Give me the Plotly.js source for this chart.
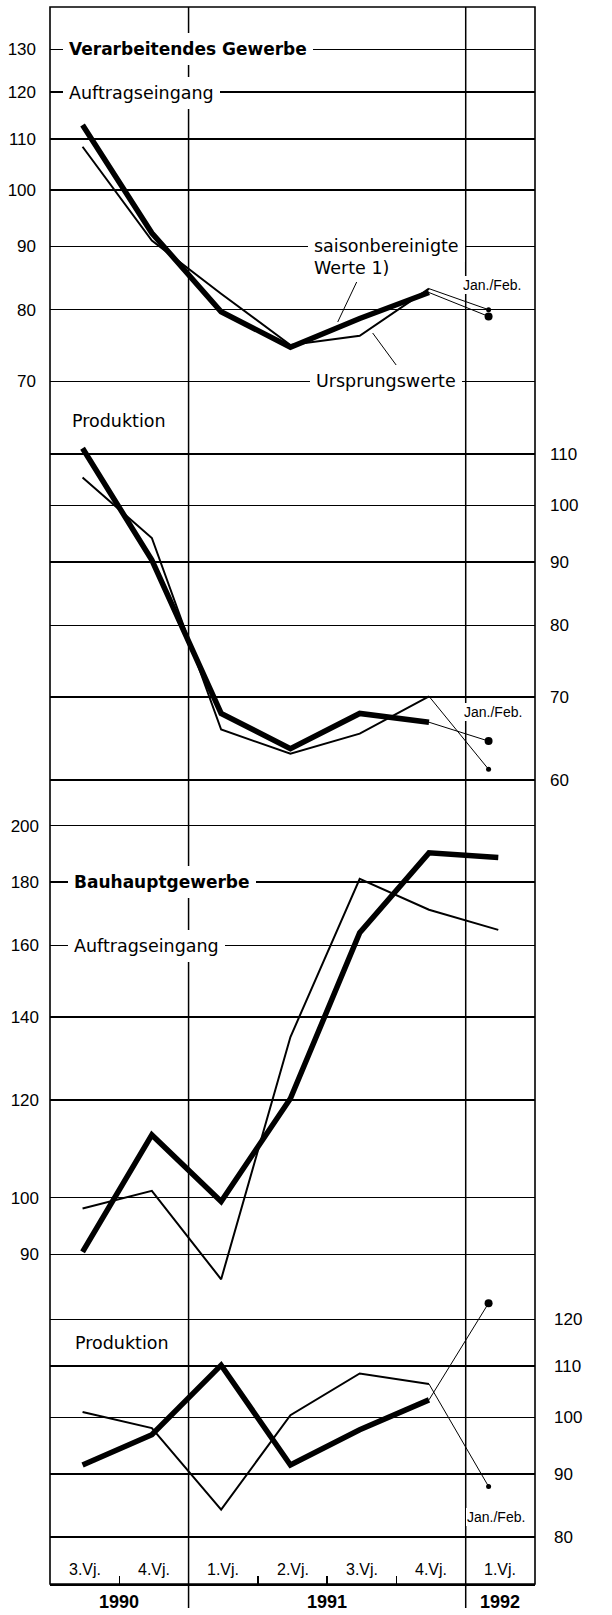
<!DOCTYPE html>
<html><head><meta charset="utf-8">
<script src="https://cdn.plot.ly/plotly-3.0.1.min.js"></script>
<style>html,body{margin:0;padding:0;background:#fff}</style>
</head><body><div id="chart" style="width:612px;height:1615px"></div>
<script>
// ---------------- data ----------------
const quarterLabels = ['3.Vj.', '4.Vj.', '1.Vj.', '2.Vj.', '3.Vj.', '4.Vj.', '1.Vj.'];
const yearLabels = ['1990', '1991', '1992'];
const quarterX = [0.47, 1.47, 2.47, 3.47, 4.47, 5.47, 6.47];   // mid-quarter positions
const janFebX = 6.33;

// Verarbeitendes Gewerbe – Auftragseingang
const vgAuftragSaison   = [112.9, 92.3, 79.7, 74.6, 78.7, 82.6];
const vgAuftragUrsprung = [108.4, 91.0, 82.4, 74.9, 76.2, 83.2];
const vgAuftragJanFeb   = [79.0, 80.0];   // [saisonbereinigt, Ursprung]
// Verarbeitendes Gewerbe – Produktion
const vgProdSaison   = [111.2, 90.3, 67.9, 63.6, 67.9, 66.8];
const vgProdUrsprung = [105.3, 94.1, 65.9, 63.0, 65.4, 70.1];
const vgProdJanFeb   = [64.5, 61.2];
// Bauhauptgewerbe – Auftragseingang (incl. 1.Vj. 1992)
const bauAuftragSaison   = [90.4, 112.4, 99.3, 120.3, 163.8, 190.1, 188.5];
const bauAuftragUrsprung = [98.0, 101.3, 85.9, 134.9, 181.1, 171.0, 164.7];
// Bauhauptgewerbe – Produktion
const bauProdSaison   = [91.5, 96.8, 110.2, 91.5, 97.7, 103.3];
const bauProdUrsprung = [101.0, 98.0, 84.2, 100.4, 108.5, 106.4];
const bauProdJanFeb   = [123.7, 87.9];

// axis tick values
const ticksVgAuftrag  = [70, 80, 90, 100, 110, 120, 130];
const ticksVgProd     = [60, 70, 80, 90, 100, 110];
const ticksBauAuftrag = [90, 100, 120, 140, 160, 180, 200];
const ticksBauProd    = [80, 90, 100, 110, 120];

// ---------------- geometry ----------------
const W = 612, H = 1615;
const L = 50, R = 535.5, T = 7, B = 1584;
const px = x => (x - L) / (R - L);
const py = y => (B - y) / (B - T);
function logRange(y100, s, yt, yb) { return [2 - (yb - y100) / s, 2 + (y100 - yt) / s]; }

const TXT = 'DejaVu Sans';
const NUM = 'Liberation Sans';

function thick(x, y, ax) { return {x, y, yaxis: ax, mode: 'lines', line: {color: '#000', width: 5.5}, hoverinfo: 'skip'}; }
function thin(x, y, ax) { return {x, y, yaxis: ax, mode: 'lines', line: {color: '#000', width: 2}, hoverinfo: 'skip'}; }
function conn(x, y, ax) { return {x, y, yaxis: ax, mode: 'lines', line: {color: '#000', width: 1}, hoverinfo: 'skip'}; }
function dot(x, y, ax, size) { return {x: [x], y: [y], yaxis: ax, mode: 'markers', marker: {color: '#000', size}, hoverinfo: 'skip'}; }

const q6 = quarterX.slice(0, 6);
const traces = [
  thin(q6, vgAuftragUrsprung, 'y'),
  thick(q6, vgAuftragSaison, 'y'),
  conn([q6[5], janFebX], [vgAuftragSaison[5], vgAuftragJanFeb[0]], 'y'),
  conn([q6[5], janFebX], [vgAuftragUrsprung[5], vgAuftragJanFeb[1]], 'y'),
  dot(janFebX, vgAuftragJanFeb[0], 'y', 8),
  dot(janFebX, vgAuftragJanFeb[1], 'y', 5),

  thin(q6, vgProdUrsprung, 'y2'),
  thick(q6, vgProdSaison, 'y2'),
  conn([q6[5], janFebX], [vgProdSaison[5], vgProdJanFeb[0]], 'y2'),
  conn([q6[5], janFebX], [vgProdUrsprung[5], vgProdJanFeb[1]], 'y2'),
  dot(janFebX, vgProdJanFeb[0], 'y2', 8),
  dot(janFebX, vgProdJanFeb[1], 'y2', 5),

  thin(quarterX, bauAuftragUrsprung, 'y3'),
  thick(quarterX, bauAuftragSaison, 'y3'),

  thin(q6, bauProdUrsprung, 'y4'),
  thick(q6, bauProdSaison, 'y4'),
  conn([q6[5], janFebX], [bauProdSaison[5], bauProdJanFeb[0]], 'y4'),
  conn([q6[5], janFebX], [bauProdUrsprung[5], bauProdJanFeb[1]], 'y4'),
  dot(janFebX, bauProdJanFeb[0], 'y4', 8),
  dot(janFebX, bauProdJanFeb[1], 'y4', 5),
];

function yax(domTop, domBot, range, ticks, side, standoff) {
  return {
    type: 'log', domain: [py(domBot), py(domTop)], range, anchor: 'x', side,
    tickvals: ticks, ticktext: ticks.map(String), ticks: '',
    showgrid: true, gridcolor: '#000', gridwidth: 1.5, zeroline: false, showline: false,
    tickfont: {family: NUM, size: 17, color: '#000'}, ticklabelstandoff: standoff, fixedrange: true
  };
}

function note(text, xLeft, yMid, opts = {}) {
  const pad = opts.pad === undefined ? 6 : opts.pad;
  return {
    text, xref: 'paper', yref: 'paper', x: px(xLeft - pad), y: py(yMid),
    xanchor: 'left', yanchor: 'middle', showarrow: false,
    font: {family: opts.family || TXT, size: opts.size || 17.5, color: '#000'},
    bgcolor: opts.bg === false ? 'rgba(0,0,0,0)' : '#fff', borderpad: pad, borderwidth: 0
  };
}

const annotations = [
  note('<b>Verarbeitendes Gewerbe</b>', 69.5, 49, {size: 17}),
  note('Auftragseingang', 69.5, 92.5),
  note('saisonbereinigte', 314, 246.5),
  note('Werte 1)', 314, 268, {bg: false}),
  note('Ursprungswerte', 316, 381),
  note('Jan./Feb.', 463, 285, {family: NUM, size: 14, pad: 1}),
  note('Produktion', 72, 421, {bg: false}),
  note('Jan./Feb.', 464, 712, {family: NUM, size: 14, pad: 1}),
  note('<b>Bauhauptgewerbe</b>', 74, 882, {size: 17}),
  note('Auftragseingang', 74, 946),
  note('Produktion', 75, 1343, {bg: false}),
  note('Jan./Feb.', 467, 1517, {family: NUM, size: 14, pad: 1}),
];
quarterLabels.forEach((t, k) => annotations.push({
  text: t, xref: 'x', yref: 'paper', x: k + 0.5, y: py(1569), xanchor: 'center', yanchor: 'middle',
  showarrow: false, font: {family: NUM, size: 16, color: '#000'}
}));
[1, 4, 6.5].forEach((xv, i) => annotations.push({
  text: '<b>' + yearLabels[i] + '</b>', xref: 'x', yref: 'paper', x: xv, y: py(1602), xanchor: 'center', yanchor: 'middle',
  showarrow: false, font: {family: NUM, size: 18, color: '#000'}
}));

const shapes = [
  {type: 'rect', xref: 'paper', yref: 'paper', x0: 0, x1: 1, y0: 0, y1: 1, line: {color: '#000', width: 1.6}},
  {type: 'line', xref: 'x', yref: 'paper', x0: 2, x1: 2, y0: py(1608), y1: 1, line: {color: '#000', width: 1.5}},
  {type: 'line', xref: 'x', yref: 'paper', x0: 6, x1: 6, y0: py(1608), y1: 1, line: {color: '#000', width: 1.5}},
  {type: 'line', xref: 'paper', yref: 'paper', x0: px(357), y0: py(282), x1: px(338), y1: py(322), line: {color: '#000', width: 1}},
  {type: 'line', xref: 'paper', yref: 'paper', x0: px(396.5), y0: py(365), x1: px(373), y1: py(333), line: {color: '#000', width: 1}},
];

const layout = {
  width: W, height: H, showlegend: false,
  margin: {l: L, r: W - R, t: T, b: H - B, pad: 0},
  paper_bgcolor: '#fff', plot_bgcolor: '#fff',
  xaxis: {range: [0, 7], anchor: 'y4', showgrid: false, zeroline: false, showline: true,
          linecolor: '#000', linewidth: 1.6, tickvals: [1, 3, 4, 5], ticks: 'inside', ticklen: 8,
          tickwidth: 1.5, tickcolor: '#000', showticklabels: false, fixedrange: true},
  yaxis:  yax(T, 400, logRange(190, 1235, T, 400), ticksVgAuftrag, 'left', 13),
  yaxis2: yax(400, 800, logRange(505.3, 1238, 400, 800), ticksVgProd, 'right', 14),
  yaxis3: yax(800, 1290, logRange(1197.7, 1236, 800, 1290), ticksBauAuftrag, 'left', 10),
  yaxis4: yax(1290, B, logRange(1417.3, 1236, 1290, B), ticksBauProd, 'right', 18),
  annotations, shapes
};

Plotly.newPlot('chart', traces, layout, {displayModeBar: false, staticPlot: true});
</script></body></html>
